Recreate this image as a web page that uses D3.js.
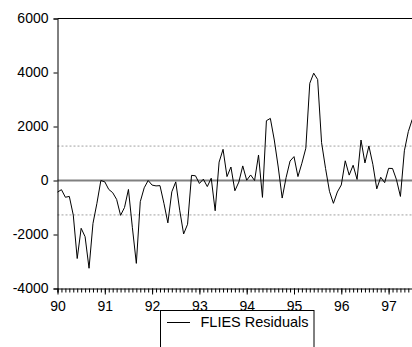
<!DOCTYPE html>
<html>
<head>
<meta charset="utf-8">
<script src="https://cdn.jsdelivr.net/npm/d3@7"></script>
<style>
  html, body { margin: 0; padding: 0; background: #fff; }
  svg { display: block; }
  text { font-family: "Liberation Sans", Arial, sans-serif; }
</style>
</head>
<body>
<svg id="chart" width="412" height="347"></svg>
<script>
// ---- data ----
const startYear = 1990;            // first observation 1990:01, monthly
const residuals = [
  -430, -340, -620, -590, -1280, -2890, -1770, -2080, -3250, -1590, -845, 0,
  -50, -330, -450, -700, -1290, -1000, -330, -1750, -3070, -785, -270, 0,
  -170, -200, -190, -845, -1570, -420, -50, -1100, -1980, -1620, 190, 175,
  -110, 50, -225, 85, -1120, 680, 1155, 145, 500, -380, -60, 540,
  10, 205, 0, 945, -625, 2215, 2300, 1500, 500, -650, 110, 720,
  885, 145, 640, 1195, 3600, 3975, 3740, 1400, 450, -400, -845, -425,
  -165, 730, 200, 565, 40, 1500, 650, 1280, 600, -310, 120, -80,
  450, 445, 30, -590, 1100, 1810, 2265
];
const yearTicks = [1990, 1991, 1992, 1993, 1994, 1995, 1996, 1997];
const yearLabels = ["90", "91", "92", "93", "94", "95", "96", "97"];
const yTicks = [-4000, -2000, 0, 2000, 4000, 6000];
const yLabels = ["-4000", "-2000", "0", "2000", "4000", "6000"];
const seBands = [1275, -1275];
const legendLabel = "FLIES Residuals";

// ---- layout ----
const svg = d3.select("#chart");
const plotLeft = 57.5, plotTop = 18.5, plotBottom = 288.5;
const yearWidth = 47.3;
const x = d3.scaleLinear().domain([1990, 1998]).range([plotLeft, plotLeft + 8 * yearWidth]);
const y = d3.scaleLinear().domain([-4000, 6000]).range([plotBottom, plotTop]);

const t = i => startYear + i / 12;

// reference lines
svg.append("g").selectAll("line").data(seBands).join("line")
  .attr("x1", plotLeft).attr("x2", 412)
  .attr("y1", d => y(d)).attr("y2", d => y(d))
  .attr("stroke", "#a0a0a0").attr("stroke-width", 1)
  .attr("stroke-dasharray", "2,2");

svg.append("line")
  .attr("x1", plotLeft).attr("x2", 412)
  .attr("y1", y(0)).attr("y2", y(0))
  .attr("stroke", "#808080").attr("stroke-width", 2);

// series
const line = d3.line().x((d, i) => x(t(i))).y(d => y(d));
svg.append("path").datum(residuals)
  .attr("d", line)
  .attr("fill", "none").attr("stroke", "#000").attr("stroke-width", 1)
  .attr("stroke-linejoin", "round");

// frame: top border
svg.append("line")
  .attr("x1", plotLeft).attr("x2", 412).attr("y1", plotTop).attr("y2", plotTop)
  .attr("stroke", "#000").attr("stroke-width", 1);

// y axis
const yAxis = d3.axisLeft(y).tickValues(yTicks).tickSize(4).tickPadding(5)
  .tickFormat((d, i) => yLabels[i]);
const gy = svg.append("g").attr("transform", `translate(${plotLeft},0)`).call(yAxis);
gy.select(".domain").attr("stroke", "#000");
gy.selectAll("text").attr("font-size", 14).attr("fill", "#000")
  .style("font-family", '"Liberation Sans", Arial, sans-serif');

// x axis: monthly minor ticks
const monthTicks = d3.range(0, 8 * 12 + 1).map(t);
const gxm = svg.append("g").attr("transform", `translate(0,${plotBottom})`)
  .call(d3.axisBottom(x).tickValues(monthTicks).tickSize(4).tickFormat(""));
gxm.select(".domain").attr("stroke", "#000");
const gx = svg.append("g").attr("transform", `translate(0,${plotBottom})`)
  .call(d3.axisBottom(x).tickValues(yearTicks).tickSize(6).tickPadding(7)
    .tickFormat((d, i) => yearLabels[i]));
gx.select(".domain").remove();
gx.selectAll("text").attr("font-size", 14).attr("fill", "#000")
  .style("font-family", '"Liberation Sans", Arial, sans-serif');

// legend
const lg = svg.append("g");
lg.append("rect").attr("x", 160.5).attr("y", 310.5).attr("width", 153.5).attr("height", 45)
  .attr("fill", "#fff").attr("stroke", "#000").attr("stroke-width", 1);
lg.append("line").attr("x1", 167).attr("x2", 190).attr("y1", 322.5).attr("y2", 322.5)
  .attr("stroke", "#000").attr("stroke-width", 1);
lg.append("text").attr("x", 200.5).attr("y", 327).attr("font-size", 14.5).attr("fill", "#000")
  .text(legendLabel);
</script>
</body>
</html>
